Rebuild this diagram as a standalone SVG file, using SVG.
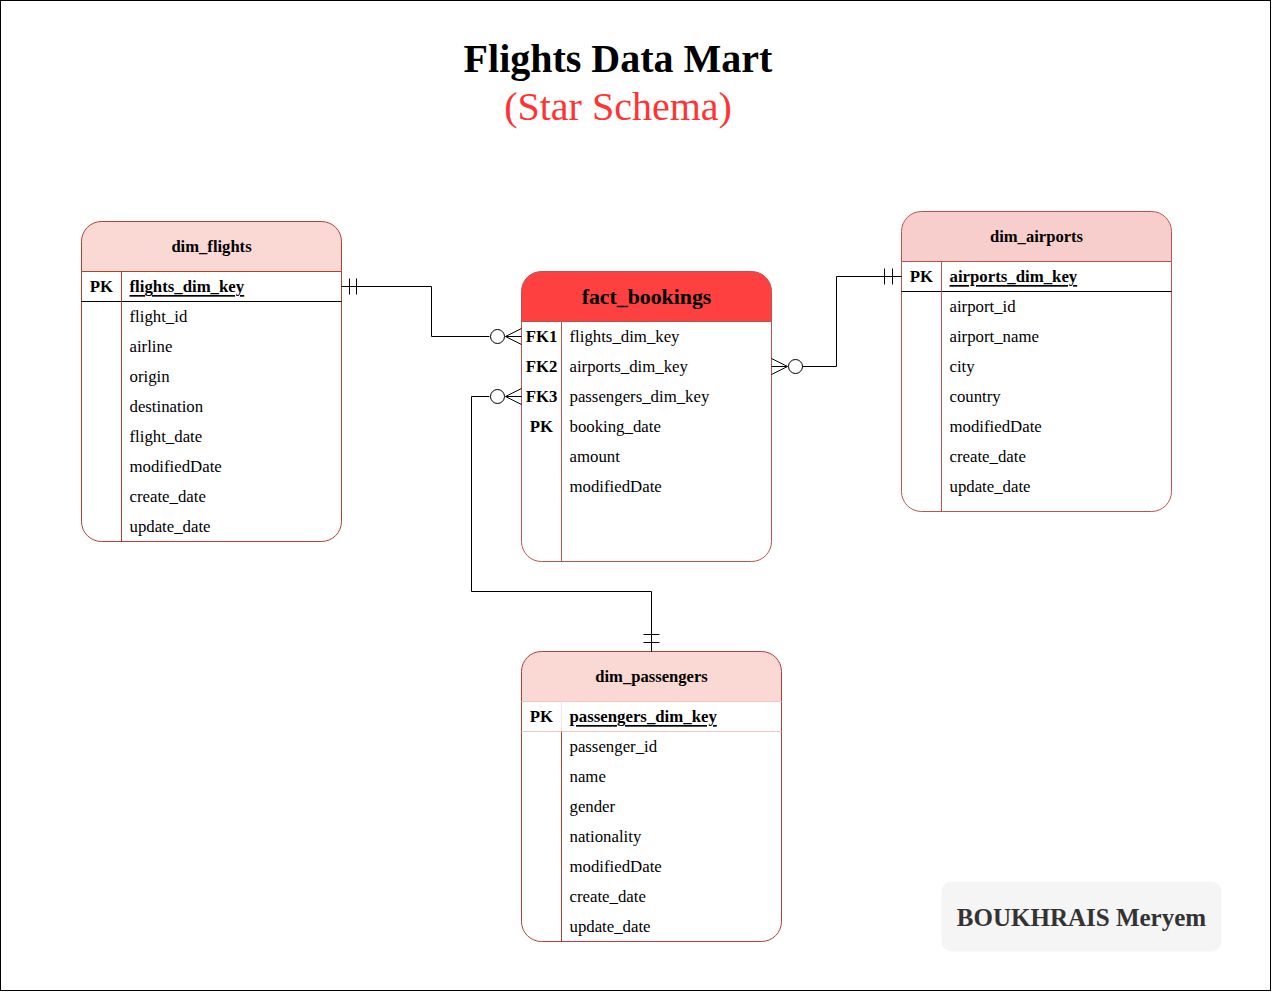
<svg xmlns="http://www.w3.org/2000/svg" width="1272" height="992" viewBox="0 0 1272 992">
<defs>
<style>
text{font-family:"Liberation Serif","Times New Roman",serif;}
.row{font-size:16.8px;fill:#000;dominant-baseline:central;}
.key{font-size:16.8px;font-weight:bold;fill:#000;dominant-baseline:central;text-anchor:middle;}
.hdr{font-size:16.6px;font-weight:bold;fill:#000;dominant-baseline:central;text-anchor:middle;}
.pk{font-size:16.8px;font-weight:bold;fill:#000;dominant-baseline:central;text-decoration:underline;}
.conn{fill:none;stroke:#000;stroke-width:1;}
.tbl{stroke:#AE4132;stroke-width:1;}
</style>
</defs>
<rect x="0.5" y="0.5" width="1270" height="990" fill="#fff" stroke="#000"/>
<text x="618" y="72" text-anchor="middle" font-size="40" font-weight="bold" fill="#000">Flights Data Mart</text>
<text x="618" y="120" text-anchor="middle" font-size="40" fill="#FF3333">(Star Schema)</text>
<g transform="translate(0.5,0.5)">
<g id="dim_flights">
<path d="M81,271 V241 A20,20 0 0 1 101,221 H321 A20,20 0 0 1 341,241 V271 Z" fill="#FAD9D5" class="tbl"/>
<path d="M81,271 H341 V521 A20,20 0 0 1 321,541 H101 A20,20 0 0 1 81,521 Z" fill="#fff" class="tbl"/>
<line x1="81" y1="301" x2="341" y2="301" stroke="#000"/>
<line x1="121" y1="271" x2="121" y2="541" class="tbl"/>
<text x="211" y="246" class="hdr">dim_flights</text>
<text x="101" y="286" class="key">PK</text>
<text x="129" y="286" class="pk">flights_dim_key</text>
<text x="129" y="316" class="row">flight_id</text>
<text x="129" y="346" class="row">airline</text>
<text x="129" y="376" class="row">origin</text>
<text x="129" y="406" class="row">destination</text>
<text x="129" y="436" class="row">flight_date</text>
<text x="129" y="466" class="row">modifiedDate</text>
<text x="129" y="496" class="row">create_date</text>
<text x="129" y="526" class="row">update_date</text>
</g>

<g id="fact_bookings">
<path d="M521,321 V291 A20,20 0 0 1 541,271 H751 A20,20 0 0 1 771,291 V321 Z" fill="#FF4040" stroke="#B85450"/>
<path d="M521,321 H771 V541 A20,20 0 0 1 751,561 H541 A20,20 0 0 1 521,541 Z" fill="#fff" stroke="#B85450"/>
<line x1="561" y1="321" x2="561" y2="561" stroke="#B85450"/>
<text x="646" y="296" class="hdr" style="font-size:21.8px">fact_bookings</text>
<text x="541" y="336" class="key">FK1</text>
<text x="569" y="336" class="row">flights_dim_key</text>
<text x="541" y="366" class="key">FK2</text>
<text x="569" y="366" class="row">airports_dim_key</text>
<text x="541" y="396" class="key">FK3</text>
<text x="569" y="396" class="row">passengers_dim_key</text>
<text x="541" y="426" class="key">PK</text>
<text x="569" y="426" class="row">booking_date</text>
<text x="569" y="456" class="row">amount</text>
<text x="569" y="486" class="row">modifiedDate</text>
</g>

<g id="dim_airports">
<path d="M901,261 V231 A20,20 0 0 1 921,211 H1151 A20,20 0 0 1 1171,231 V261 Z" fill="#F8CECC" stroke="#B85450"/>
<path d="M901,261 H1171 V491 A20,20 0 0 1 1151,511 H921 A20,20 0 0 1 901,491 Z" fill="#fff" stroke="#B85450"/>
<line x1="901" y1="291" x2="1171" y2="291" stroke="#000"/>
<line x1="941" y1="261" x2="941" y2="511" stroke="#B85450"/>
<text x="1036" y="236" class="hdr">dim_airports</text>
<text x="921" y="276" class="key">PK</text>
<text x="949" y="276" class="pk">airports_dim_key</text>
<text x="949" y="306" class="row">airport_id</text>
<text x="949" y="336" class="row">airport_name</text>
<text x="949" y="366" class="row">city</text>
<text x="949" y="396" class="row">country</text>
<text x="949" y="426" class="row">modifiedDate</text>
<text x="949" y="456" class="row">create_date</text>
<text x="949" y="486" class="row">update_date</text>
</g>

<g id="dim_passengers">
<path d="M521,701 V671 A20,20 0 0 1 541,651 H761 A20,20 0 0 1 781,671 V701 Z" fill="#FAD9D5" class="tbl"/>
<path d="M521,701 H781 V921 A20,20 0 0 1 761,941 H541 A20,20 0 0 1 521,921 Z" fill="#fff" class="tbl"/>
<line x1="521" y1="701" x2="781" y2="701" stroke="#F4C4BE"/>
<line x1="521" y1="731" x2="781" y2="731" stroke="#F4C4BE"/>
<line x1="561" y1="701" x2="561" y2="731" stroke="#FBE3E0"/>
<line x1="561" y1="731" x2="561" y2="941" class="tbl"/>
<text x="651" y="676" class="hdr">dim_passengers</text>
<text x="541" y="716" class="key">PK</text>
<text x="569" y="716" class="pk">passengers_dim_key</text>
<text x="569" y="746" class="row">passenger_id</text>
<text x="569" y="776" class="row">name</text>
<text x="569" y="806" class="row">gender</text>
<text x="569" y="836" class="row">nationality</text>
<text x="569" y="866" class="row">modifiedDate</text>
<text x="569" y="896" class="row">create_date</text>
<text x="569" y="926" class="row">update_date</text>
</g>

<g id="signature">
<rect x="941" y="881" width="280" height="70" rx="10" fill="#F5F5F5"/>
<text x="1081" y="917" text-anchor="middle" dominant-baseline="central" font-size="25" font-weight="bold" fill="#333">BOUKHRAIS Meryem</text>
</g>

<g id="connectors">
<path class="conn" d="M341,286 H431 V336 H489"/>
<line class="conn" x1="349" y1="278" x2="349" y2="294"/>
<line class="conn" x1="356" y1="278" x2="356" y2="294"/>
<circle class="conn" cx="497" cy="336" r="7" fill="#fff"/>
<path class="conn" d="M521,328 L505,336 L521,344 M505,336 H521"/>
<path class="conn" d="M802,366 H836 V276 H901"/>
<line class="conn" x1="884" y1="268" x2="884" y2="284"/>
<line class="conn" x1="892" y1="268" x2="892" y2="284"/>
<circle class="conn" cx="795" cy="366" r="7" fill="#fff"/>
<path class="conn" d="M771,358 L787,366 L771,374 M771,366 H787"/>
<path class="conn" d="M489,396 H471 V591 H651 V651"/>
<line class="conn" x1="643" y1="634" x2="659" y2="634"/>
<line class="conn" x1="643" y1="642" x2="659" y2="642"/>
<circle class="conn" cx="497" cy="396" r="7" fill="#fff"/>
<path class="conn" d="M521,388 L505,396 L521,404 M505,396 H521"/>
</g>
</g>
</svg>
